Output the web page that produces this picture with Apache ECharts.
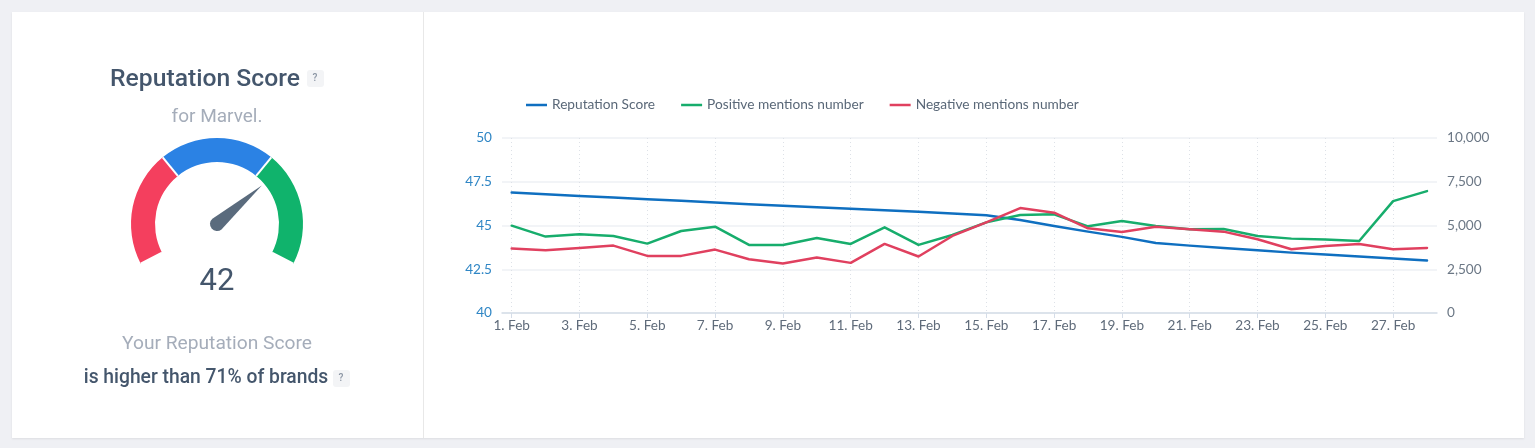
<!DOCTYPE html>
<html>
<head>
<meta charset="utf-8">
<title>Reputation Score</title>
<script src="https://cdn.jsdelivr.net/npm/echarts@6/dist/echarts.min.js"></script>
<style>
html,body{margin:0;padding:0;background:#eff0f4;}
#card{position:absolute;left:12px;top:12px;width:1512px;height:426px;background:#fff;box-shadow:0 1px 2px rgba(0,0,0,.08);}
#main{position:absolute;left:0;top:0;width:1535px;height:448px;}
</style>
</head>
<body>
<div id="card"></div>
<div id="main"></div>
<script>
const days = [1,2,3,4,5,6,7,8,9,10,11,12,13,14,15,16,17,18,19,20,21,22,23,24,25,26,27,28];
const scoreValues = [46.88,46.78,46.69,46.6,46.5,46.41,46.31,46.22,46.13,46.04,45.96,45.87,45.78,45.69,45.58,45.31,44.97,44.65,44.35,44,43.85,43.72,43.59,43.45,43.34,43.23,43.11,43];
const positiveValues = [4990,4365,4497,4400,3966,4687,4934,3890,3890,4288,3947,4895,3890,4460,5180,5598,5636,4952,5256,4971,4782,4800,4402,4250,4194,4118,6395,6964];
const negativeValues = [3681,3586,3719,3852,3264,3264,3624,3074,2827,3169,2865,3947,3226,4402,5180,5996,5730,4838,4630,4933,4782,4649,4212,3643,3833,3947,3643,3719];
const seriesNames = ['Reputation Score','Positive mentions number','Negative mentions number'];
const tickDays = [1,3,5,7,9,11,13,15,17,19,21,23,25,27];
const reputationScore = 42;
const percentile = 71;

const TEXT_DARK = '#44566c';
const TEXT_LIGHT = '#a5adba';
const LINE_FONT = 'Lato';

let myChart = echarts.init(document.getElementById('main'), null, {renderer:'canvas'});

function yAxisFor(position, min, max, interval, color, formatter, showSplit){
    return {
        type:'value', position:position, min:min, max:max, interval:interval,
        axisLine:{show:false}, axisTick:{show:false},
        axisLabel:{margin:10, padding:[0,0,3,0], fontFamily:LINE_FONT, fontSize:13.6, color:color, formatter:formatter},
        splitLine:{show:showSplit, lineStyle:{color:'#eef0f4', width:1.5}}
    };
}
function lineSeries(name, values, color, yAxisIndex){
    return {
        name:name, type:'line', yAxisIndex:yAxisIndex,
        data:days.map(function(d,i){ return [d, values[i]]; }),
        symbol:'none', color:color, lineStyle:{width:2.5, color:color, cap:'round', join:'round'}
    };
}
function helpBox(x, y){
    return [
        {type:'rect', left:x, top:y, shape:{width:17, height:17, r:3}, style:{fill:'#f3f4f6'}},
        {type:'text', left:x+5.5, top:y+3, style:{text:'?', font:'500 10px Roboto', fill:'#8a94a3'}}
    ];
}
function labelText(text, x, y, font, color){
    return {type:'text', x:x, y:y, style:{text:text, font:font, fill:color, textAlign:'center', textVerticalAlign:'middle'}};
}
let rightFmt = function(v){ return v.toLocaleString('en-US'); };

myChart.setOption({
    animation:false,
    backgroundColor:'transparent',
    legend:{
        data:seriesNames, left:521, top:93, itemWidth:21, itemHeight:2.5, itemGap:26, icon:'rect',
        textStyle:{fontFamily:LINE_FONT, fontSize:13.7, color:'#5a6878'}
    },
    grid:{left:502, top:138, width:935, height:175},
    xAxis:{
        type:'value', min:0.714, max:28.295,
        axisLine:{show:true, onZero:false, lineStyle:{color:'#d5dde8', width:1.5}},
        axisTick:{show:true, length:5, customValues:tickDays, lineStyle:{color:'#d5dde8'}},
        axisLabel:{customValues:tickDays, margin:6, fontFamily:LINE_FONT, fontSize:13.6, color:'#5f6b7a',
            formatter:function(v){ return v + '. Feb'; }},
        splitLine:{show:true, lineStyle:{color:'#dde1e7', type:[1,3]}}
    },
    yAxis:[
        yAxisFor('left', 40, 50, 2.5, '#2f86c5', undefined, true),
        yAxisFor('right', 0, 10000, 2500, '#6b7785', rightFmt, false)
    ],
    series:[
        {
            type:'gauge', center:[217,224], radius:86, min:0, max:100, splitNumber:3,
            startAngle:207.5, endAngle:-27.5,
            axisLine:{lineStyle:{width:24, color:[[1/3,'#f43f5e'],[2/3,'#2b82e4'],[1,'#10b36c']]}},
            axisTick:{show:false}, axisLabel:{show:false},
            splitLine:{distance:-24, length:24, lineStyle:{color:'#fff', width:2}},
            pointer:{
                icon:'path://M7 0 L14 60 A7 7 0 1 1 0 60 Z',
                length:66, width:14, offsetCenter:[0,7],
                itemStyle:{color:'#5a6b7d'}
            },
            anchor:{show:false}, title:{show:false},
            detail:{offsetCenter:[0,58], fontFamily:'Roboto', fontSize:31, fontWeight:400, color:TEXT_DARK,
                formatter:function(){ return String(reputationScore); }},
            data:[{value:percentile}]
        },
        lineSeries(seriesNames[0], scoreValues, '#0f6fc0', 0),
        lineSeries(seriesNames[1], positiveValues, '#17ad6c', 1),
        lineSeries(seriesNames[2], negativeValues, '#e0405f', 1)
    ],
    graphic:[
        {type:'rect', left:423, top:12, shape:{width:1, height:426}, style:{fill:'#e8e8e8'}},
        labelText('Reputation Score', 205, 80, '500 24.7px Roboto', TEXT_DARK),
        labelText('for Marvel.', 217, 117, '19px Roboto', TEXT_LIGHT),
        labelText('Your Reputation Score', 217, 344, '19.2px Roboto', TEXT_LIGHT),
        labelText('is higher than ' + percentile + '% of brands', 206, 378, '500 19.3px Roboto', TEXT_DARK)
    ].concat(helpBox(307,70), helpBox(333,370))
});
</script>
</body>
</html>
